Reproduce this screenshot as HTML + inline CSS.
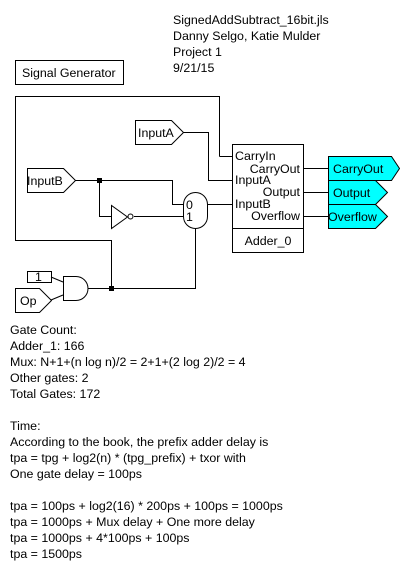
<!DOCTYPE html>
<html><head><style>
html,body{margin:0;padding:0;background:#fff;}
svg{display:block;}
text{font-family:"Liberation Sans",Arial,sans-serif;font-size:12.4px;fill:#000;}
</style></head><body>
<svg width="409" height="570" viewBox="0 0 409 570" xmlns="http://www.w3.org/2000/svg">
<g>
<text x="173" y="24">SignedAddSubtract_16bit.jls</text>
<text x="173" y="40">Danny Selgo, Katie Mulder</text>
<text x="173" y="56">Project 1</text>
<text x="173" y="72">9/21/15</text>
</g>
<rect x="15.5" y="60.5" width="108" height="24" fill="none" stroke="#000"/>
<text x="22" y="77">Signal Generator</text>

<g fill="none" stroke="#000" stroke-width="1">
<polyline points="219.5,156.5 219.5,96.5 15.5,96.5 15.5,240.5 111.5,240.5 111.5,288.5"/>
<polyline points="219.5,156.5 232,156.5"/>
<polyline points="183,132.5 208.5,132.5 208.5,180.5 232,180.5"/>
<polyline points="75,180.5 172.5,180.5 172.5,204.5 184,204.5"/>
<polyline points="99.5,180.5 99.5,216.5 111,216.5"/>
<line x1="134" y1="216.5" x2="184" y2="216.5"/>
<line x1="207" y1="204.5" x2="232" y2="204.5"/>
<polyline points="195.5,228 195.5,288.5 88,288.5"/>
<rect x="232.5" y="144.5" width="71" height="108"/>
<line x1="232.5" y1="228.5" x2="303.5" y2="228.5"/>
<line x1="303" y1="168.5" x2="328" y2="168.5"/>
<line x1="303" y1="192.5" x2="328" y2="192.5"/>
<line x1="303" y1="216.5" x2="328" y2="216.5"/>
<polygon points="135.5,120.5 171.5,120.5 183.5,132.5 171.5,144.5 135.5,144.5"/>
<polygon points="27.5,168.5 63.5,168.5 75.5,180.5 63.5,192.5 27.5,192.5"/>
<rect x="183.5" y="192.5" width="24" height="36" rx="12" ry="12"/>
<polygon points="111.5,205.5 111.5,228.5 127.5,217"/>
<circle cx="130.5" cy="216.5" r="2.5"/>
<path d="M63.5,276.5 H76 A12,12 0 0 1 76,300.5 H63.5 Z"/>
<rect x="27.5" y="271.5" width="24" height="11"/>
<polygon points="15.5,288.5 39.5,288.5 51.5,300.5 39.5,312.5 15.5,312.5"/>
<line x1="51" y1="277" x2="63" y2="282"/>
<line x1="51" y1="300" x2="63" y2="295"/>
</g>
<rect x="97" y="178" width="5" height="5" fill="#000"/>
<rect x="109" y="286" width="5" height="5" fill="#000"/>

<g fill="#00ffff" stroke="#000">
<polygon points="328.5,156.5 391.5,156.5 399.5,168.5 391.5,180.5 328.5,180.5"/>
<polygon points="328.5,180.5 375.5,180.5 387.5,192.5 375.5,204.5 328.5,204.5"/>
<polygon points="328.5,204.5 375.5,204.5 387.5,216.5 375.5,228.5 328.5,228.5"/>
</g>
<text x="333" y="173">CarryOut</text>
<text x="333" y="197">Output</text>
<text x="328" y="221">Overflow</text>

<text x="138" y="137">InputA</text>
<text x="27" y="185">InputB</text>
<text x="20" y="305">Op</text>
<text x="35" y="281">1</text>
<text x="186" y="209">0</text>
<text x="186" y="221">1</text>

<text x="235" y="160">CarryIn</text>
<text x="300" y="173" text-anchor="end">CarryOut</text>
<text x="235" y="184">InputA</text>
<text x="300" y="196" text-anchor="end">Output</text>
<text x="235" y="208">InputB</text>
<text x="300" y="220" text-anchor="end">Overflow</text>
<text x="268" y="245" text-anchor="middle">Adder_0</text>

<g>
<text x="10" y="334">Gate Count:</text>
<text x="10" y="350">Adder_1: 166</text>
<text x="10" y="366">Mux: N+1+(n log n)/2 = 2+1+(2 log 2)/2 = 4</text>
<text x="10" y="382">Other gates: 2</text>
<text x="10" y="398">Total Gates: 172</text>
<text x="10" y="430">Time:</text>
<text x="10" y="446">According to the book, the prefix adder delay is</text>
<text x="10" y="462">tpa = tpg + log2(n) * (tpg_prefix) + txor with</text>
<text x="10" y="478">One gate delay  = 100ps</text>
<text x="10" y="510">tpa = 100ps + log2(16) * 200ps + 100ps = 1000ps</text>
<text x="10" y="526">tpa = 1000ps + Mux delay + One more delay</text>
<text x="10" y="542">tpa = 1000ps + 4*100ps + 100ps</text>
<text x="10" y="558">tpa = 1500ps</text>
</g>
</svg>
</body></html>
